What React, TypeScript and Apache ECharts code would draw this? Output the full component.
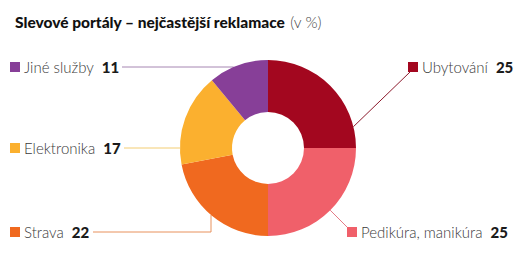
import React, { useEffect, useRef } from "react";
import * as echarts from "echarts";

const categories = ["Ubytování", "Pedikúra, manikúra", "Strava", "Elektronika", "Jiné služby"];
const values = [25, 25, 22, 17, 11];
const colors = ["#a3071f", "#f0606a", "#f0691f", "#fbb02f", "#873f98"];
const lineColors = ["#8c1a2c", "#e47c86", "#e8915c", "#f3cd72", "#a686b2"];

const titleMain = "Slevové portály – nejčastější reklamace";
const titleUnit = "(v %)";

const W = 519;
const H = 265;
const CX = 268;
const CY = 148;
const R_IN = 36;
const R_OUT = 88;

// label anchor (left edge of the colour square, vertical middle) per category index
const labelAnchors = [
  { x: 408, y: 67 },
  { x: 347, y: 232 },
  { x: 10, y: 232 },
  { x: 10, y: 148 },
  { x: 10, y: 67 },
];

const onCircleAtY = (y: number, side: number) =>
  [CX + side * Math.sqrt(R_OUT * R_OUT - (y - CY) * (y - CY)), y];
const onCircleAtX = (x: number, below: number) =>
  [x, CY + below * Math.sqrt(R_OUT * R_OUT - (x - CX) * (x - CX))];
const onCircleAtAngle = (deg: number) => {
  const a = (deg * Math.PI) / 180;
  return [CX + R_OUT * Math.cos(a), CY - R_OUT * Math.sin(a)];
};

const linePoints: number[][][] = [
  [onCircleAtAngle(14), [410, 72]],
  [onCircleAtAngle(-45), [348, 228]],
  [onCircleAtX(211, 1), [211, 232], [93, 232]],
  [onCircleAtY(148, -1), [124, 148]],
  [onCircleAtY(67, -1), [122, 67]],
];

export default function App() {
  const ref = useRef<HTMLDivElement>(null);
  useEffect(() => {
    if (!ref.current) return;
    const chart = echarts.init(ref.current, undefined, { renderer: "svg" });
    const rich: any = {
      name: { fontFamily: "Lato", fontWeight: 300, fontSize: 15, color: "#3a3a3a", padding: [0, 8, 0, 4] },
      val: { fontFamily: "Lato", fontWeight: 900, fontSize: 15, color: "#1a1a1a" },
    };
    colors.forEach((c, i) => {
      rich["sq" + i] = { width: 10, height: 10, backgroundColor: c };
    });
    chart.setOption({
      animation: false,
      backgroundColor: "#ffffff",
      title: {
        left: 10,
        top: 8,
        text: `{b|${titleMain}} {n|${titleUnit}}`,
        textStyle: {
          rich: {
            b: { fontFamily: "Lato", fontWeight: 900, fontSize: 15.5, color: "#111111" },
            n: { fontFamily: "Lato", fontWeight: 300, fontSize: 15.5, color: "#444444" },
          },
        },
      },
      series: [
        {
          type: "pie",
          center: [CX, CY],
          radius: [R_IN, R_OUT],
          startAngle: 90,
          clockwise: true,
          silent: true,
          data: categories.map((name, i) => ({
            name,
            value: values[i],
            itemStyle: { color: colors[i] },
            labelLine: { lineStyle: { color: lineColors[i], width: 1 } },
          })),
          label: {
            show: true,
            position: "outside",
            overflow: "none",
            formatter: (p: any) => `{sq${p.dataIndex}|}{name|${p.name}}{val|${p.value}}`,
            rich,
          },
          labelLine: { show: true, smooth: false },
          labelLayout: (p: any) => {
            const a = labelAnchors[p.dataIndex];
            return {
              x: a.x,
              y: a.y,
              align: "left",
              verticalAlign: "middle",
              width: 300,
              labelLinePoints: linePoints[p.dataIndex],
            };
          },
        },
      ],
    });
    return () => chart.dispose();
  }, []);
  return (
    <div
      ref={ref}
      style={{ position: "absolute", left: 0, top: 0, width: W, height: H, background: "#fff" }}
    />
  );
}
